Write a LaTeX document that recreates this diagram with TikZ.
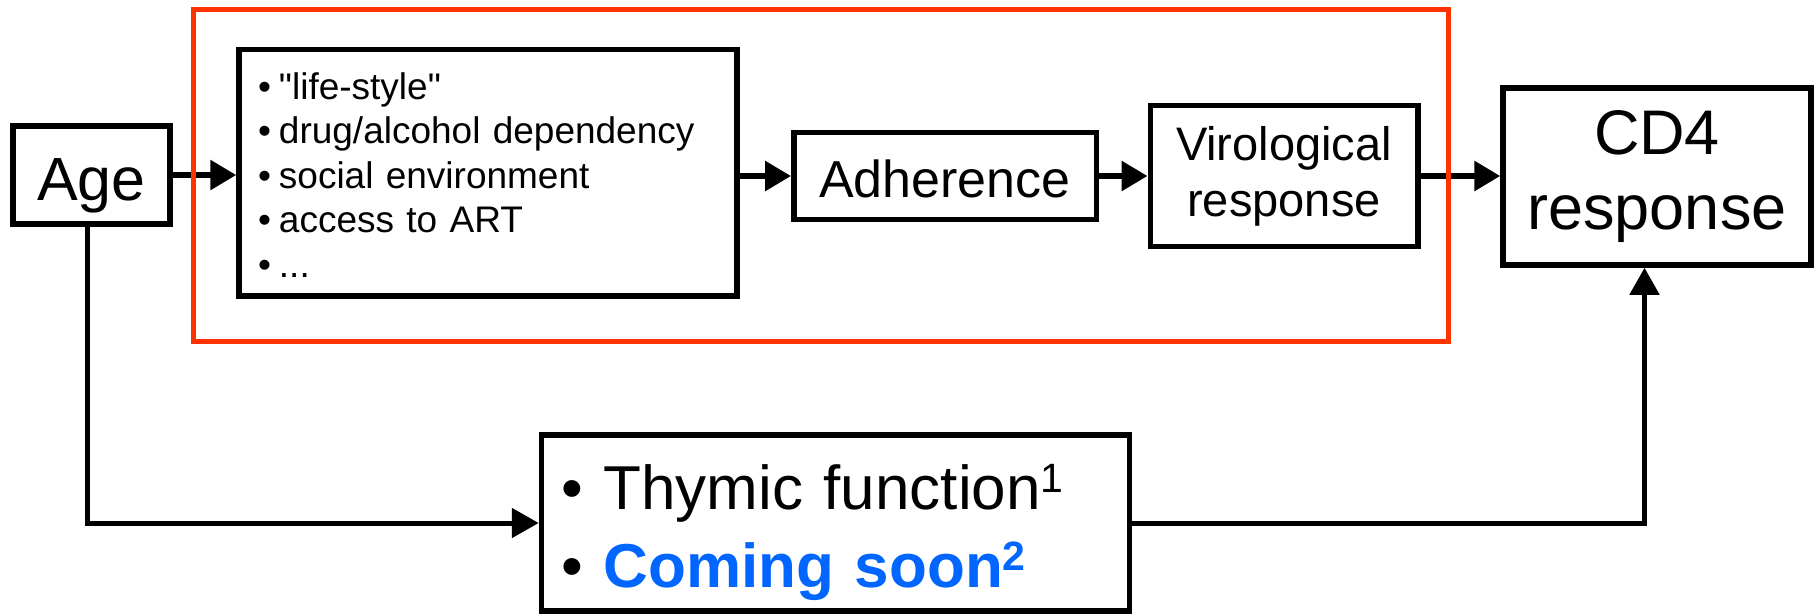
\documentclass[tikz,border=0pt]{standalone}
\usepackage{fontspec}
\setmainfont{Liberation Sans}
\usetikzlibrary{arrows.meta}
\definecolor{framered}{HTML}{FF3300}
\definecolor{soonblue}{HTML}{0066FF}
\newcommand{\refmark}[1]{\raisebox{17pt}{\fontsize{41}{41}\selectfont #1}}

\begin{document}
\begin{tikzpicture}[x=1pt, y=-1pt,
    block/.style={draw, line width=5.5pt, inner sep=4pt,
      execute at begin node=\rule{0pt}{1.04em},
      execute at end node=\rule[-.212em]{0pt}{0pt}},
    link/.style={line width=6pt, -{Triangle[length=26pt,width=29pt]}},
    sidelink/.style={line width=5pt, -{Triangle[length=27pt,width=29pt]}}]
            \useasboundingbox (0,0) rectangle (1817,614);
            \node[block, minimum width=157pt, minimum height=98pt, font=\fontsize{61}{73}\selectfont]   (age)  at (91.5,175)    {Age};
            \node[block, minimum width=498pt, minimum height=246.5pt, inner xsep=19pt, text width=460pt, align=left, font=\fontsize{37}{44.5}\selectfont]   (factors)  at (488,172.75)    {\textbullet\hspace{8pt}\textquotedbl life-style\textquotedbl\\ \textbullet\hspace{8pt}drug/alcohol dependency\\ \textbullet\hspace{8pt}social environment\\ \textbullet\hspace{8pt}access to ART\\ \textbullet\hspace{8pt}...};
            \node[block, minimum width=302.5pt, minimum height=87pt, font=\fontsize{52}{62}\selectfont]   (adherence)  at (945,176)    {Adherence};
            \node[block, minimum width=267.5pt, minimum height=141pt, align=center, font=\fontsize{47}{56}\selectfont]   (viro)  at (1284,176)    {Virological\\ response};
            \node[block, minimum width=308pt, minimum height=177pt, align=center, font=\fontsize{63}{75}\selectfont]   (cd4)  at (1657,176.5)    {CD4\\ response};
            \node[block, minimum width=588pt, minimum height=176pt, inner xsep=19.5pt, text width=549pt, align=left, font=\fontsize{62}{78}\selectfont]   (thymic)  at (835.5,523)    {\textbullet\ Thymic function\refmark{1}\\ \textbullet\ \textcolor{soonblue}{\bfseries Coming soon\refmark{2}}};
            \draw[link] (age.east) -- (age.east -| factors.west);
            \draw[link] (adherence.west -| factors.east) -- (adherence.west);
            \draw[link] (adherence.east) -- (viro.west);
            \draw[link] (viro.east) -- (viro.east -| cd4.west);
            \draw[sidelink] ([xshift=-4pt]age.south) |- (thymic.west);
            \draw[sidelink] (thymic.east) -| ([xshift=-12.5pt]cd4.south);
            \draw[framered, line width=5pt] (193.5,9.5) rectangle (1448,341.5);
        \end{tikzpicture}
\end{document}
